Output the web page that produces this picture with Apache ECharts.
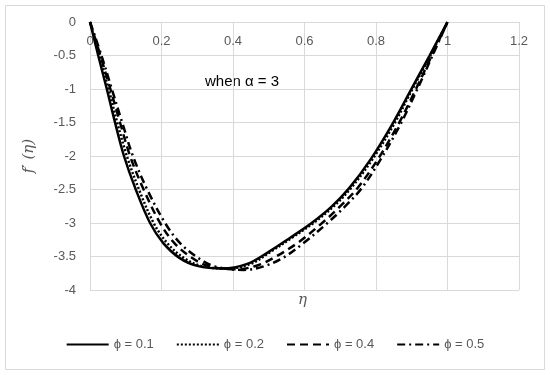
<!DOCTYPE html>
<html>
<head>
<meta charset="utf-8">
<script src="https://cdn.jsdelivr.net/npm/echarts@6/dist/echarts.min.js"></script>
<style>html,body{margin:0;padding:0;background:#fff}#c{width:550px;height:375px}</style>
</head>
<body>
<div id="c"></div>
<script>
// Data
var seriesNames = ['ϕ = 0.1', 'ϕ = 0.2', 'ϕ = 0.4', 'ϕ = 0.5'];
var phi01 = [[0,0],[0.023,-0.5],[0.047,-1],[0.07,-1.5],[0.095,-2],[0.128,-2.5],[0.168,-3],[0.205,-3.3],[0.25,-3.52],[0.3,-3.64],[0.37,-3.68],[0.44,-3.61],[0.5,-3.43],[0.56,-3.22],[0.62,-3.0],[0.675,-2.76],[0.725,-2.48],[0.785,-2.05],[0.845,-1.53],[0.897,-1.02],[0.95,-0.5],[1,0]];
var phi02 = [[0,0],[0.026,-0.5],[0.052,-1],[0.076,-1.5],[0.103,-2],[0.137,-2.5],[0.178,-3],[0.216,-3.3],[0.262,-3.52],[0.31,-3.64],[0.38,-3.68],[0.45,-3.61],[0.505,-3.43],[0.565,-3.22],[0.625,-3.0],[0.68,-2.76],[0.73,-2.48],[0.79,-2.05],[0.85,-1.53],[0.9,-1.02],[0.952,-0.5],[1,0]];
var phi04 = [[0,0],[0.029,-0.5],[0.057,-1],[0.084,-1.5],[0.112,-2],[0.15,-2.5],[0.196,-3],[0.236,-3.3],[0.285,-3.52],[0.33,-3.64],[0.41,-3.69],[0.47,-3.63],[0.52,-3.5],[0.58,-3.3],[0.645,-3.02],[0.698,-2.76],[0.748,-2.48],[0.805,-2.05],[0.862,-1.53],[0.91,-1.02],[0.956,-0.5],[1,0]];
var phi05 = [[0,0],[0.032,-0.5],[0.061,-1],[0.09,-1.5],[0.12,-2],[0.16,-2.5],[0.21,-3],[0.252,-3.3],[0.302,-3.52],[0.35,-3.65],[0.43,-3.7],[0.49,-3.64],[0.54,-3.52],[0.595,-3.31],[0.66,-3.02],[0.712,-2.76],[0.76,-2.48],[0.813,-2.05],[0.868,-1.53],[0.914,-1.02],[0.958,-0.5],[1,0]];
var annotation = 'when α = 3';

var chart = echarts.init(document.getElementById('c'));
var gray = '#595959', grid = '#d9d9d9';
var font = 'Liberation Sans, Arial, sans-serif';
var styles = [
  {type: 'solid', width: 2.5},
  {type: [2, 2], width: 2.5},
  {type: [8, 5], width: 2.5},
  {type: [8, 4, 2, 4], width: 2.5}
];
var datas = [phi01, phi02, phi04, phi05];
chart.setOption({
  animation: false,
  textStyle: {fontFamily: font},
  grid: {left: 90, right: 31, top: 22, bottom: 85},
  xAxis: {
    type: 'value', min: 0, max: 1.2, interval: 0.2, position: 'top',
    axisLine: {show: true, lineStyle: {color: grid}},
    axisTick: {show: false},
    axisLabel: {inside: true, margin: 13, color: gray, fontSize: 13, fontFamily: font},
    splitLine: {show: true, lineStyle: {color: grid, width: 1}}
  },
  yAxis: {
    type: 'value', min: -4, max: 0, interval: 0.5,
    axisLine: {show: true, lineStyle: {color: grid}},
    axisTick: {show: false},
    axisLabel: {margin: 14, color: gray, fontSize: 13, fontFamily: font},
    splitLine: {show: true, lineStyle: {color: grid, width: 1}},
    name: 'f′ (η)', nameLocation: 'middle', nameGap: 53, nameRotate: 90,
    nameTextStyle: {color: gray, fontSize: 15, fontStyle: 'italic', fontFamily: 'DejaVu Serif, serif'}
  },
  legend: {
    bottom: 19, left: 'center', itemWidth: 42, itemHeight: 10, itemGap: 22,
    textStyle: {color: gray, fontSize: 13, fontFamily: font},
    itemStyle: {opacity: 0},
    data: seriesNames
  },
  graphic: [
    {type: 'rect', shape: {x: 5.5, y: 5.5, width: 539, height: 364}, style: {fill: 'none', stroke: grid, lineWidth: 1}, silent: true},
    {type: 'text', left: 298, top: 293, style: {text: 'η', fill: gray, font: 'italic 15px DejaVu Serif, serif'}},
    {type: 'text', left: 205, top: 74, style: {text: annotation, fill: '#000', font: '15px Liberation Sans, Arial, sans-serif'}}
  ],
  series: datas.map(function (d, i) {
    return {
      name: seriesNames[i], type: 'line', data: d, smooth: 0.35,
      symbol: 'none', showSymbol: false,
      lineStyle: Object.assign({color: '#000'}, styles[i]),
      itemStyle: {color: '#000'}
    };
  })
});
</script>
</body>
</html>
